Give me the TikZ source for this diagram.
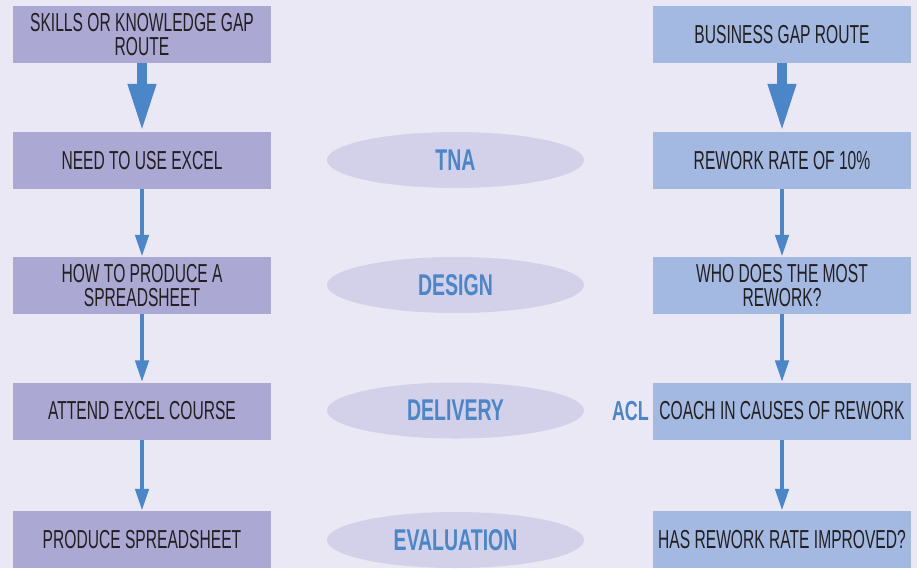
\documentclass[tikz,border=0pt]{standalone}
\usepackage{fontspec}
\setmainfont{Liberation Sans}[FakeStretch=0.65]
\newfontfamily\boxfont{Liberation Sans}[FakeStretch=0.6]
\usetikzlibrary{shapes.geometric,arrows.meta}

\definecolor{bgcol}{HTML}{EAE8F4}
\definecolor{skillbox}{HTML}{ABA8D3}
\definecolor{bizbox}{HTML}{A3B9E1}
\definecolor{stagecol}{HTML}{D3D0E9}
\definecolor{flowblue}{HTML}{4A86C8}
\definecolor{inkcol}{HTML}{231F20}

\tikzset{
  routebox/.style={rectangle, minimum width=258pt, minimum height=57pt,
    inner sep=0pt, align=center, text=inkcol,
    font=\boxfont\fontsize{26}{24.5}\selectfont},
  skill/.style={routebox, fill=skillbox},
  biz/.style={routebox, fill=bizbox},
  stage/.style={ellipse, fill=stagecol, minimum width=257pt, minimum height=56pt,
    inner sep=0pt, text=flowblue, font=\fontsize{30}{30}\selectfont\bfseries},
  bigflow/.style={draw=flowblue, line width=10pt,
    -{Triangle[width=26pt,length=48pt]}, flowblue},
  flow/.style={draw=flowblue, line width=4.5pt,
    -{Triangle[width=13pt,length=22pt]}, flowblue},
}

\begin{document}
\begin{tikzpicture}[x=1pt, y=-1pt]
  \fill[bgcol] (0,0) rectangle (917,568);
  \useasboundingbox (0,0) rectangle (917,568);

  % skills or knowledge gap route
  \node[skill] (s1) at (142,34.5) {SKILLS OR KNOWLEDGE GAP\\ROUTE};
  \node[skill] (s2) at (142,160.5) {NEED TO USE EXCEL};
  \node[skill] (s3) at (142,285.5) {HOW TO PRODUCE A\\SPREADSHEET};
  \node[skill] (s4) at (142,411) {ATTEND EXCEL COURSE};
  \node[skill] (s5) at (142,539.5) {PRODUCE SPREADSHEET};

  % business gap route
  \node[biz] (b1) at (782,34.5) {BUSINESS GAP ROUTE};
  \node[biz] (b2) at (782,160.5) {REWORK RATE OF 10\%};
  \node[biz] (b3) at (782,285.5) {WHO DOES THE MOST\\REWORK?};
  \node[biz] (b4) at (782,411) {COACH IN CAUSES OF REWORK};
  \node[biz] (b5) at (782,539.5) {HAS REWORK RATE IMPROVED?};

  \node[anchor=east, inner sep=0pt, text=flowblue,
    font=\fontsize{27.5}{27.5}\selectfont\bfseries] (acl) at (649,411) {ACL};

  % stages
  \node[stage] (tna) at (455.5,160) {TNA};
  \node[stage] (design) at (455.5,285) {DESIGN};
  \node[stage] (delivery) at (455.5,410.5) {DELIVERY};
  \node[stage] (evaluation) at (455.5,540) {EVALUATION};

  % connectors
  \draw[bigflow] (s1.south) -- (s2.north);
  \draw[flow] (s2.south) -- (s3.north);
  \draw[flow] (s3.south) -- (s4.north);
  \draw[flow] (s4.south) -- (s5.north);

  \draw[bigflow] (b1.south) -- (b2.north);
  \draw[flow] (b2.south) -- (b3.north);
  \draw[flow] (b3.south) -- (b4.north);
  \draw[flow] (b4.south) -- (b5.north);
\end{tikzpicture}
\end{document}
